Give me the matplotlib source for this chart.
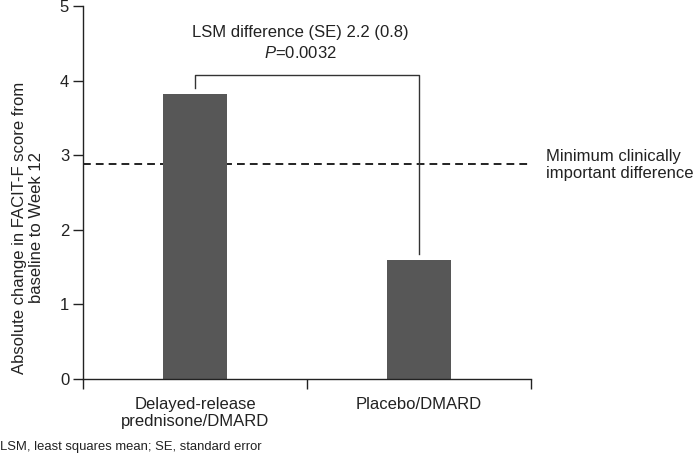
import matplotlib
matplotlib.use("Agg")
import matplotlib.pyplot as plt

# donnees
categories = ["Delayed-release\nprednisone/DMARD", "Placebo/DMARD"]
values = [3.82, 1.60]
mcid = 2.88
bracket_top = 4.07
bracket_legs = [3.90, 1.68]
diff_text = "LSM difference (SE) 2.2 (0.8)"
p_text = "$\\it{P}$=0.0032"
mcid_text = "Minimum clinically\nimportant difference"
ylabel = "Absolute change in FACIT-F score from\nbaseline to Week 12"
footnote = "LSM, least squares mean; SE, standard error"

plt.rcParams['font.family'] = ['Liberation Sans', 'DejaVu Sans']
plt.rcParams['mathtext.fontset'] = 'custom'
plt.rcParams['mathtext.it'] = 'Liberation Sans:italic'
plt.rcParams['mathtext.rm'] = 'Liberation Sans'
txt = '#222222'

fig = plt.figure(figsize=(7, 4.65), dpi=100)
ax = fig.add_axes([0.1186, 0.185, 0.64, 0.802])

x = list(range(len(categories)))
ax.bar(x, values, width=0.286, color='#575757', zorder=2)

# ligne MCID
ax.axhline(mcid, color='#222222', lw=1.4, ls=(0, (4, 2.6)), zorder=1)

# crochet de comparaison
ax.plot([x[0], x[0], x[1], x[1]],
        [bracket_legs[0], bracket_top, bracket_top, bracket_legs[1]],
        color='#333333', lw=1.0)
ax.text(0.47, 4.65, diff_text, ha='center', va='center', fontsize=12, color=txt)
ax.text(0.47, 4.37, p_text, ha='center', va='center', fontsize=12, color=txt)

ax.set_xlim(-0.5, 1.5)
ax.set_ylim(0, 5)
ax.set_yticks([0, 1, 2, 3, 4, 5])
ax.set_xticks([-0.5, 0.5, 1.5])
ax.set_xticklabels([])
ax.set_xticks(x, minor=True)
ax.set_xticklabels(categories, minor=True, fontsize=12, color=txt)
ax.tick_params(axis='x', which='minor', length=0, pad=13)
ax.tick_params(axis='both', which='major', length=7, width=1.0, color='#222222',
               labelsize=12, labelcolor=txt, direction='out')
ax.tick_params(axis='y', pad=3)

for s in ['top', 'right']:
    ax.spines[s].set_visible(False)
for s in ['left', 'bottom']:
    ax.spines[s].set_color('#222222')
    ax.spines[s].set_linewidth(1.0)

fig.text(0.04, 0.51, ylabel, rotation=90, ha='center', va='center',
         fontsize=12, color=txt, multialignment='center')
fig.text(546 / 700, 1 - 165 / 465, mcid_text, ha='left', va='center',
         fontsize=12, color=txt, linespacing=1.15)
fig.text(0.0, 1 - 447 / 465, footnote, ha='left', va='center',
         fontsize=9.4, color=txt)

fig.savefig("out.png", dpi=100)
